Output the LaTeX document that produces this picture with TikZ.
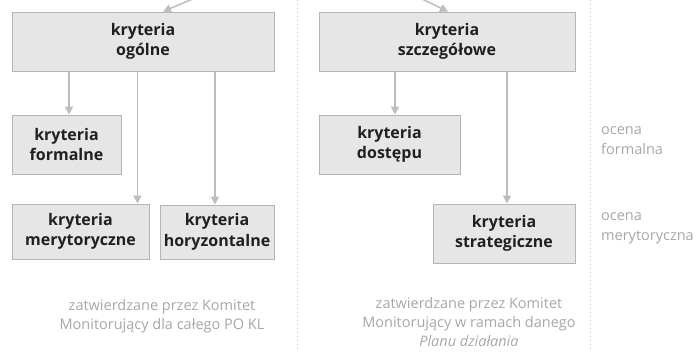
\documentclass[tikz,border=0pt]{standalone}
\usepackage{fontspec}
\setmainfont{Open Sans}
\usetikzlibrary{arrows.meta,calc}
\definecolor{boxfill}{HTML}{E6E6E7}
\definecolor{boxline}{HTML}{B4B4B6}
\definecolor{arrcol}{HTML}{BDBDBF}
\definecolor{txtdark}{HTML}{231F20}
\definecolor{txtgray}{HTML}{A8A8AA}
\definecolor{divcol}{HTML}{C9C9CB}
\tikzset{
  crit/.style={draw=boxline, line width=0.9pt, fill=boxfill, inner sep=0pt,
    text=txtdark, font=\fontsize{16}{20.5}\selectfont\bfseries, align=center},
  arr/.style={draw=arrcol, line width=1.5pt, -{Triangle[width=8pt,length=8pt]}},
  note/.style={text=txtgray, font=\fontsize{14.5}{19}\selectfont, align=center, inner sep=0pt},
  side/.style={text=txtgray, font=\fontsize{14.5}{19.5}\selectfont, align=left, inner sep=0pt, anchor=west},
  divider/.style={draw=divcol, line width=1pt, dash pattern=on 1.2pt off 2.8pt}
}
\begin{document}
\begin{tikzpicture}[x=1pt,y=-1pt]
\useasboundingbox[fill=white] (0,0) rectangle (697,352);
% dividers
\coordinate (d1t) at (297,0); \coordinate (d1b) at (297,352);
\coordinate (d2t) at (590,0); \coordinate (d2b) at (590,352);
\draw[divider] (d1t) -- (d1b);
\draw[divider] (d2t) -- (d2b);
% boxes
\node[crit, minimum width=262pt, minimum height=59pt] (ogolne) at (143,41.5) {kryteria\\ogólne};
\node[crit, minimum width=109pt, minimum height=59pt] (formalne) at (66.5,144.5) {kryteria\\formalne};
\node[crit, minimum width=137pt, minimum height=55pt] (meryt) at (80.5,231.5) {kryteria\\merytoryczne};
\node[crit, minimum width=114pt, minimum height=54pt] (horyz) at (217,232) {kryteria\\horyzontalne};
\node[crit, minimum width=256pt, minimum height=59pt] (szczeg) at (447,41.5) {kryteria\\szczegółowe};
\node[crit, minimum width=141pt, minimum height=59pt] (dostep) at (389.5,144.5) {kryteria\\dostępu};
\node[crit, minimum width=142pt, minimum height=59pt] (strat) at (504,233.5) {kryteria\\strategiczne};
% incoming arrows from above
\coordinate (inA) at (195,-2);
\coordinate (inB) at (420,-2);
\draw[arr] (inA) -- ([xshift=20pt]ogolne.north);
\draw[arr] (inB) -- ([xshift=1pt]szczeg.north);
% arrows
\draw[arr] ([xshift=2.5pt]formalne.north |- ogolne.south) -- ([xshift=2.5pt]formalne.north);
\draw[arr] ([xshift=-12pt]meryt.north east |- ogolne.south) -- ([xshift=-12pt]meryt.north east);
\draw[arr] ([xshift=-2pt]horyz.north |- ogolne.south) -- ([xshift=-2pt]horyz.north);
\draw[arr] ([xshift=5.5pt]dostep.north |- szczeg.south) -- ([xshift=5.5pt]dostep.north);
\draw[arr] ([xshift=3pt]strat.north |- szczeg.south) -- ([xshift=3pt]strat.north);
% notes
\node[note] (n1) at (162,316.5) {zatwierdzane przez Komitet\\Monitorujący dla całego PO KL};
\node[note] (n2) at (469,322.5) {zatwierdzane przez Komitet\\Monitorujący w ramach danego\\\textit{Planu działania}};
\node[side] (s1) at (601,140.5) {ocena\\formalna};
\node[side] (s2) at (601,228.5) {ocena\\merytoryczna};
\end{tikzpicture}
\end{document}
